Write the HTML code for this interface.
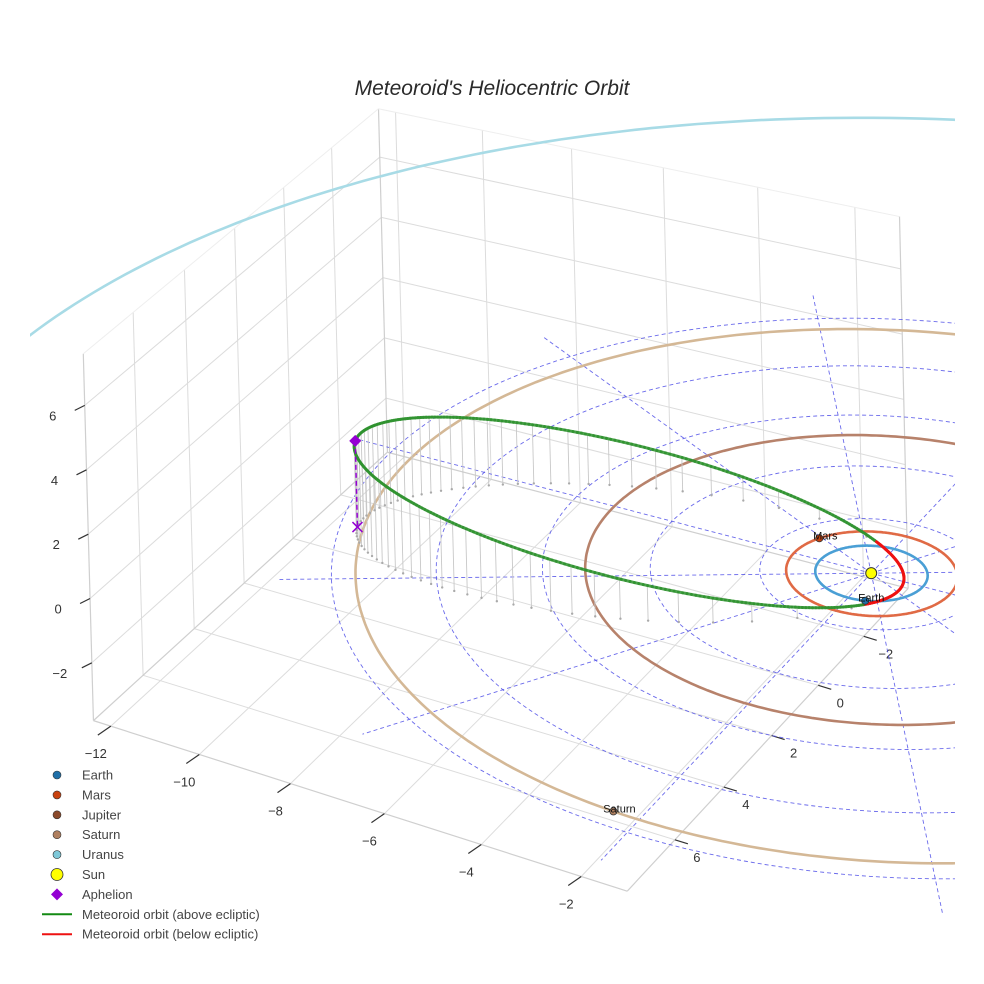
<!DOCTYPE html>
<html><head><meta charset="utf-8"><style>
html,body{margin:0;padding:0;background:#fff;overflow:hidden;}
svg{display:block;font-family:"Liberation Sans",sans-serif;}
</style></head>
<body>
<svg id="chart" width="984" height="984" viewBox="0 0 984 984" xmlns="http://www.w3.org/2000/svg">
<defs><clipPath id="sceneClip"><rect x="30" y="0" width="925" height="915"/></clipPath></defs>
<rect x="0" y="0" width="984" height="984" fill="#fff"/>
<g id="axes"></g>
<g id="scene" clip-path="url(#sceneClip)"></g>
<text x="492" y="95" text-anchor="middle" font-size="21" font-style="italic" fill="#2a2a2a">Meteoroid's Heliocentric Orbit</text>
<g id="legend"></g>
</svg>
<script>
// ---- data ----
const xTicks = [-12, -10, -8, -6, -4, -2];
const yTicks = [-2, 0, 2, 4, 6];
const zTicks = [-2, 0, 2, 4, 6];
const xRange = [-12.4, -1.1];
const yRange = [-4, 7.9];
const zRange = [-3.8, 7.6];
const planetNames = ["Earth", "Mars", "Jupiter", "Saturn", "Uranus"];
const planetRadii = [1.0, 1.524, 5.203, 9.537, 19.19];
const planetAngles = [72, 208, 330, 93, 0];
const ringRadii = [2, 4, 6, 8, 10];
const spokeAngles = [0, 30, 60, 90, 120, 150, 180, 210, 240, 270, 300, 330];
const spokeLength = [11];
const aphelionDist = [10.05];
const perihelionDist = [0.6];
const aphelionDir = [-0.912, 0.303, 0.268];
const minorDir = [-0.315, -0.949, 0.0];

const planetOrbitColors = ["#4a9fd5", "#e06a45", "#b7826b", "#d4b896", "#a8dbe6"];
const planetDotColors = ["#1f6fa8", "#c8420f", "#8b4a2b", "#b08060", "#7ec8d8"];

// ---- camera calibration (world -> screen), fitted by DLT ----
const calibWorld = [[-12.4,7.9,-3.8],[-1.1,7.9,-3.8],[-12.4,7.9,7.6],[-12.4,-4,7.6],[-1.1,-4,7.6],[-1.1,-2,-3.8],[-1.1,6,-3.8],[0,0,0],[0,0,0],[-6,7.9,-3.8],[-12.4,7.9,0],
  [-4.48,-8.42,0],[4.48,8.42,0],[-8.26,4.77,0],[-2.44,-4.59,0],[2.44,4.59,0],[-0.866,0.5,0],[-4.51,2.6,0]];
const calibScreen = [[100,726],[620,895],[81,334],[370,125],[912,230],[863,640],[670,843],[872,575],[872,575],[392,820],[97,600],
  [830,312],[905,862],[338,575],[855,426],[890,718],[820,575],[600,575]];
const Pm = (function () {
  const N = 11, A = [], B = [];
  for (let i = 0; i < N; i++) { A.push(new Array(N).fill(0)); B.push(0); }
  function addRow(r, rhs) { for (let i = 0; i < N; i++) { for (let j = 0; j < N; j++) A[i][j] += r[i] * r[j]; B[i] += r[i] * rhs; } }
  calibWorld.forEach((w, k) => {
    const [X, Y, Z] = w, [u, v] = calibScreen[k];
    addRow([X, Y, Z, 1, 0, 0, 0, 0, -u * X, -u * Y, -u * Z], u);
    addRow([0, 0, 0, 0, X, Y, Z, 1, -v * X, -v * Y, -v * Z], v);
  });
  for (let c = 0; c < N; c++) {
    let p = c; for (let r = c + 1; r < N; r++) if (Math.abs(A[r][c]) > Math.abs(A[p][c])) p = r;
    [A[c], A[p]] = [A[p], A[c]]; [B[c], B[p]] = [B[p], B[c]];
    for (let r = 0; r < N; r++) if (r !== c) { const f = A[r][c] / A[c][c]; for (let j = c; j < N; j++) A[r][j] -= f * A[c][j]; B[r] -= f * B[c]; }
  }
  return B.map((b, i) => b / A[i][i]);
})();
function proj(X, Y, Z) {
  const w = Pm[8] * X + Pm[9] * Y + Pm[10] * Z + 1;
  return [(Pm[0] * X + Pm[1] * Y + Pm[2] * Z + Pm[3]) / w, (Pm[4] * X + Pm[5] * Y + Pm[6] * Z + Pm[7]) / w];
}
const NS = "http://www.w3.org/2000/svg";
const scene = document.getElementById('scene');
const axes = document.getElementById('axes');
const legend = document.getElementById('legend');
function mk(tag, attrs, parent) {
  const el = document.createElementNS(NS, tag);
  for (const k in attrs) el.setAttribute(k, attrs[k]);
  (parent || scene).appendChild(el);
  return el;
}
function pathOf(pts) { return pts.map((p, i) => (i ? 'L' : 'M') + p[0].toFixed(1) + ',' + p[1].toFixed(1)).join(''); }
function line3(a, b, attrs, name, parent) {
  const p = proj(a[0], a[1], a[2]), q = proj(b[0], b[1], b[2]);
  const el = mk('line', Object.assign({ x1: p[0], y1: p[1], x2: q[0], y2: q[1] }, attrs), parent);
  
  
  return el;
}
const grid = { stroke: "#dcdcdc", "stroke-width": 1 };
const [x0, x1] = xRange, [y0, y1] = yRange, [z0, z1] = zRange;
yTicks.forEach(y => line3([x0, y, z0], [x0, y, z1], grid, 'left-wall-gridline', axes));
zTicks.forEach(z => line3([x0, y0, z], [x0, y1, z], grid, 'left-wall-gridline', axes));
xTicks.forEach(x => line3([x, y0, z0], [x, y0, z1], grid, 'back-wall-gridline', axes));
zTicks.forEach(z => line3([x0, y0, z], [x1, y0, z], grid, 'back-wall-gridline', axes));
xTicks.forEach(x => line3([x, y0, z0], [x, y1, z0], grid, 'floor-gridline', axes));
yTicks.forEach(y => line3([x0, y, z0], [x1, y, z0], grid, 'floor-gridline', axes));
const edge = { stroke: "#cfcfcf", "stroke-width": 1.2 };
line3([x0, y1, z0], [x0, y1, z1], edge, 'z-axis-line', axes);
line3([x0, y0, z0], [x0, y0, z1], edge, 'box-edge', axes);
line3([x1, y0, z0], [x1, y0, z1], edge, 'box-edge', axes);
line3([x0, y1, z0], [x1, y1, z0], edge, 'x-axis-line', axes);
line3([x1, y0, z0], [x1, y1, z0], edge, 'y-axis-line', axes);
line3([x0, y0, z0], [x0, y1, z0], edge, 'box-edge', axes);
line3([x0, y0, z0], [x1, y0, z0], edge, 'box-edge', axes);
line3([x0, y0, z1], [x0, y1, z1], { stroke: "#eee", "stroke-width": 1 }, 'box-edge', axes);
line3([x0, y0, z1], [x1, y0, z1], { stroke: "#eee", "stroke-width": 1 }, 'box-edge', axes);
const tk = { stroke: "#333", "stroke-width": 1.2 };
function tick(p, dx, dy, lx, ly, txt, name) {
  const l = mk('line', Object.assign({ x1: p[0], y1: p[1], x2: p[0] + dx, y2: p[1] + dy }, tk), axes);
  
  
  const t = mk('text', { x: p[0] + lx, y: p[1] + ly + 5, "text-anchor": "middle", "font-size": 13, fill: "#333" }, axes);
  t.textContent = txt.toString().replace('-', '\u2212');
  
  
}
xTicks.forEach(x => tick(proj(x, y1, z0), -13, 9, -15, 27, x, 'x-tick'));
yTicks.forEach(y => tick(proj(x1, y, z0), 13, 4, 22, 17, y, 'y-tick'));
zTicks.forEach(z => tick(proj(x0, y1, z), -10, 5, -32, 10, z, 'z-tick'));
// ecliptic dashed grid
const dash = { fill: "none", stroke: "#5050e8", "stroke-width": 0.9, "stroke-dasharray": "4,3", opacity: 0.85 };
ringRadii.forEach(r => {
  const pts = [];
  for (let i = 0; i <= 180; i++) { const t = i / 180 * 2 * Math.PI; pts.push(proj(r * Math.cos(t), r * Math.sin(t), 0)); }
  const el = mk('path', Object.assign({ d: pathOf(pts) }, dash));
  
  
});
spokeAngles.forEach(a => {
  const t = a * Math.PI / 180;
  line3([0, 0, 0], [spokeLength[0] * Math.cos(t), spokeLength[0] * Math.sin(t), 0], dash, 'ecliptic-spoke');
});
planetRadii.forEach((r, k) => {
  let d = '', pen = false;
  for (let i = 0; i <= 360; i++) {
    const t = i / 360 * 2 * Math.PI;
    const p = proj(r * Math.cos(t), r * Math.sin(t), 0);
    if (p[1] > 880 || p[1] < 0) { pen = false; continue; }
    d += (pen ? 'L' : 'M') + p[0].toFixed(1) + ',' + p[1].toFixed(1);
    pen = true;
  }
  const el = mk('path', { d: d, fill: "none", stroke: planetOrbitColors[k], "stroke-width": 2.6 });
  
  
});
// meteoroid orbit
const Q = aphelionDist[0], q = perihelionDist[0];
const a = (Q + q) / 2, c = a - q, b = Math.sqrt(a * a - c * c), e = c / a;
function orbitPt(E) {
  const u = a * Math.cos(E) + c, v = b * Math.sin(E);
  return [0, 1, 2].map(i => u * aphelionDir[i] + v * minorDir[i]);
}
for (let i = 0; i < 70; i++) {
  const M = i / 70 * 2 * Math.PI;
  let E = M; for (let j = 0; j < 40; j++) E = E - (E - e * Math.sin(E) - M) / (1 - e * Math.cos(E));
  const P = orbitPt(E + Math.PI);
  if (P[2] <= 0.05) continue;
  line3(P, [P[0], P[1], 0], { stroke: "#c8c8c8", "stroke-width": 0.9 }, 'drop-line');
  const f = proj(P[0], P[1], 0);
  const dot = mk('circle', { cx: f[0], cy: f[1], r: 1.2, fill: "#aaa" });
  
  
}
let prev = null;
for (let i = 0; i <= 400; i++) {
  const E = i / 400 * 2 * Math.PI;
  const P = orbitPt(E);
  if (prev) {
    const above = (P[2] + prev[2]) / 2 >= 0;
    line3(prev, P, { stroke: above ? "#2e922e" : "#ee1111", "stroke-width": 3, "stroke-linecap": "round", opacity: above ? 0.85 : 1 }, above ? 'meteoroid-orbit-above' : 'meteoroid-orbit-below');
  }
  prev = P;
}
const A = orbitPt(0);
line3(A, [A[0], A[1], 0], { stroke: "#9400d3", "stroke-width": 1.5, "stroke-dasharray": "5,3" }, 'aphelion-drop-line');
const ap = proj(A[0], A[1], A[2]);
const dia = mk('path', { d: `M${ap[0]},${ap[1] - 6}L${ap[0] + 6},${ap[1]}L${ap[0]},${ap[1] + 6}L${ap[0] - 6},${ap[1]}Z`, fill: "#9400d3" });


const af = proj(A[0], A[1], 0);
const xm = mk('path', { d: `M${af[0] - 5},${af[1] - 5}L${af[0] + 5},${af[1] + 5}M${af[0] + 5},${af[1] - 5}L${af[0] - 5},${af[1] + 5}`, stroke: "#9400d3", "stroke-width": 1.5 });


planetRadii.forEach((r, k) => {
  const t = planetAngles[k] * Math.PI / 180;
  const p = proj(r * Math.cos(t), r * Math.sin(t), 0);
  const dot = mk('circle', { cx: p[0], cy: p[1], r: 3.6, fill: planetDotColors[k], stroke: "#333", "stroke-width": 0.8 });
  
  
  const tx = mk('text', { x: p[0] + 6, y: p[1] + 1, "text-anchor": "middle", "font-size": 11, fill: "#111" });
  tx.textContent = planetNames[k];
  
  
});
const sp = proj(0, 0, 0);
const sun = mk('circle', { cx: sp[0], cy: sp[1], r: 5.5, fill: "#ffff00", stroke: "#333", "stroke-width": 1 });



// ---- legend ----
const legendLabels = ["Earth", "Mars", "Jupiter", "Saturn", "Uranus", "Sun", "Aphelion", "Meteoroid orbit (above ecliptic)", "Meteoroid orbit (below ecliptic)"];
legendLabels.forEach((lab, i) => {
  const y = 775 + i * 19.9;
  const g = mk('g', {}, legend);
  
  
  let sym;
  if (i < 5) sym = mk('circle', { cx: 57, cy: y, r: 4, fill: planetDotColors[i], stroke: "#333", "stroke-width": 0.6 }, g);
  else if (i === 5) sym = mk('circle', { cx: 57, cy: y, r: 6, fill: "#ffff00", stroke: "#333", "stroke-width": 0.8 }, g);
  else if (i === 6) sym = mk('path', { d: `M57,${y - 6}L63,${y}L57,${y + 6}L51,${y}Z`, fill: "#9400d3" }, g);
  else sym = mk('line', { x1: 42, y1: y, x2: 72, y2: y, stroke: i === 7 ? "#138a13" : "#ee1111", "stroke-width": 2 }, g);
  
  
  const t = mk('text', { x: 82, y: y + 4.5, "font-size": 13, fill: "#444" }, g);
  t.textContent = lab;
  
  
});
</script>
</body></html>
